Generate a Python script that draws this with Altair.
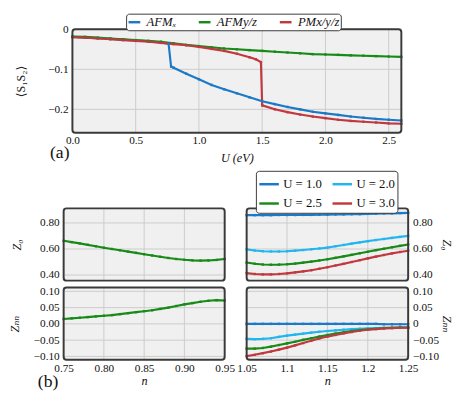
import altair as alt
import pandas as pd

# ---------------- panel (a) data ----------------
series_a = ["AFMₓ", "AFMy/z", "PMx/y/z"]
colors_a = ["#1b79c6", "#178a17", "#c1393e"]

U_afmx = [0.0, 0.1, 0.2, 0.3, 0.4, 0.5, 0.6, 0.7, 0.76, 0.78, 0.8, 0.9, 1.0, 1.1, 1.2,
          1.3, 1.4, 1.5, 1.6, 1.7, 1.8, 1.9, 2.0, 2.1, 2.2, 2.3, 2.4, 2.5, 2.6]
S_afmx = [-0.019, -0.021, -0.022, -0.024, -0.026, -0.028, -0.030, -0.033, -0.036, -0.093,
          -0.096, -0.111, -0.125, -0.139, -0.150, -0.160, -0.170, -0.180, -0.187, -0.194,
          -0.200, -0.206, -0.210, -0.214, -0.218, -0.221, -0.224, -0.226, -0.228]

U_afmyz = [0.0, 0.1, 0.2, 0.3, 0.4, 0.5, 0.6, 0.7, 0.8, 0.9, 1.0, 1.1, 1.2, 1.3, 1.4,
           1.5, 1.6, 1.7, 1.8, 1.9, 2.0, 2.1, 2.2, 2.3, 2.4, 2.5, 2.6]
S_afmyz = [-0.018, -0.019, -0.021, -0.023, -0.025, -0.027, -0.029, -0.031, -0.035, -0.039,
           -0.042, -0.045, -0.048, -0.050, -0.052, -0.054, -0.056, -0.058, -0.060, -0.062,
           -0.063, -0.064, -0.065, -0.066, -0.067, -0.068, -0.069]

U_pm = [0.0, 0.1, 0.2, 0.3, 0.4, 0.5, 0.6, 0.7, 0.8, 0.9, 1.0, 1.1, 1.2, 1.3, 1.4, 1.45,
        1.49, 1.5, 1.6, 1.7, 1.8, 1.9, 2.0, 2.1, 2.2, 2.3, 2.4, 2.5, 2.6]
S_pm = [-0.020, -0.021, -0.023, -0.025, -0.027, -0.029, -0.031, -0.034, -0.037, -0.040,
        -0.044, -0.049, -0.054, -0.061, -0.070, -0.075, -0.082, -0.190, -0.200, -0.207,
        -0.213, -0.218, -0.222, -0.226, -0.229, -0.231, -0.233, -0.235, -0.236]

# ---------------- panel (b) data ----------------
series_b = ["U = 1.0", "U = 2.0", "U = 2.5", "U = 3.0"]
colors_b = ["#1b79c6", "#22b6ef", "#178a17", "#c1393e"]

n_left = [0.75, 0.76, 0.77, 0.78, 0.79, 0.80, 0.81, 0.82, 0.83, 0.84, 0.85,
          0.86, 0.87, 0.88, 0.89, 0.90, 0.91, 0.92, 0.93, 0.94, 0.95]
Z0_left = [0.663, 0.653, 0.643, 0.632, 0.621, 0.610, 0.600, 0.590, 0.580, 0.570, 0.560,
           0.550, 0.540, 0.531, 0.523, 0.517, 0.513, 0.511, 0.512, 0.516, 0.523]
ZNN_left = [0.015, 0.017, 0.019, 0.021, 0.023, 0.025, 0.027, 0.030, 0.033, 0.036, 0.039,
            0.042, 0.046, 0.050, 0.055, 0.060, 0.064, 0.068, 0.071, 0.073, 0.072]

n_right = [1.05, 1.06, 1.07, 1.08, 1.09, 1.10, 1.11, 1.12, 1.13, 1.14, 1.15,
           1.16, 1.17, 1.18, 1.19, 1.20, 1.21, 1.22, 1.23, 1.24, 1.25]
Z0_U10 = [0.860, 0.860, 0.860, 0.860, 0.861, 0.861, 0.861, 0.862, 0.862, 0.863, 0.864,
          0.865, 0.866, 0.867, 0.868, 0.870, 0.871, 0.873, 0.874, 0.876, 0.878]
Z0_U20 = [0.597, 0.588, 0.583, 0.581, 0.581, 0.583, 0.587, 0.592, 0.598, 0.604, 0.611,
          0.621, 0.631, 0.641, 0.651, 0.660, 0.669, 0.677, 0.685, 0.693, 0.701]
Z0_U25 = [0.496, 0.487, 0.481, 0.479, 0.480, 0.483, 0.488, 0.495, 0.503, 0.512, 0.521,
          0.532, 0.543, 0.555, 0.567, 0.579, 0.591, 0.602, 0.613, 0.624, 0.635]
Z0_U30 = [0.415, 0.408, 0.405, 0.405, 0.408, 0.413, 0.420, 0.428, 0.437, 0.448, 0.460,
          0.473, 0.486, 0.500, 0.514, 0.528, 0.541, 0.554, 0.566, 0.577, 0.587]
ZNN_U10 = [0.000, 0.000, 0.000, 0.000, 0.000, 0.000, 0.000, 0.000, 0.000, 0.000, 0.000,
           0.000, 0.000, 0.000, 0.000, 0.000, 0.000, -0.001, -0.001, -0.001, -0.001]
ZNN_U20 = [-0.046, -0.047, -0.046, -0.044, -0.040, -0.036, -0.033, -0.030, -0.027, -0.024,
           -0.022, -0.020, -0.018, -0.016, -0.015, -0.014, -0.013, -0.012, -0.012, -0.011, -0.011]
ZNN_U25 = [-0.076, -0.076, -0.074, -0.070, -0.065, -0.060, -0.055, -0.049, -0.044, -0.039,
           -0.034, -0.030, -0.026, -0.022, -0.019, -0.017, -0.015, -0.013, -0.012, -0.011, -0.011]
ZNN_U30 = [-0.099, -0.095, -0.090, -0.085, -0.079, -0.073, -0.066, -0.059, -0.052, -0.045,
           -0.039, -0.034, -0.029, -0.025, -0.021, -0.018, -0.016, -0.014, -0.013, -0.012, -0.012]

# tick / grid values
ticks_U = [0.0, 0.5, 1.0, 1.5, 2.0, 2.5]
ticks_S = [0.0, -0.1, -0.2]
ticks_nl = [0.75, 0.80, 0.85, 0.90, 0.95]
ticks_nr = [1.05, 1.1, 1.15, 1.2, 1.25]
ticks_Z0 = [0.4, 0.6, 0.8]
ticks_ZNN = [-0.1, -0.05, 0.0, 0.05, 0.1]
panel_labels = ["(a)", "(b)"]

# ---------------- tables ----------------
df_a = pd.concat([
    pd.DataFrame({"U": U_afmx, "S": S_afmx, "s": series_a[0]}),
    pd.DataFrame({"U": U_afmyz, "S": S_afmyz, "s": series_a[1]}),
    pd.DataFrame({"U": U_pm, "S": S_pm, "s": series_a[2]}),
])
df_l = pd.DataFrame({"n": n_left, "Z0": Z0_left, "ZNN": ZNN_left, "s": series_b[2]})
df_r = pd.concat([
    pd.DataFrame({"n": n_right, "Z0": Z0_U10, "ZNN": ZNN_U10, "s": series_b[0]}),
    pd.DataFrame({"n": n_right, "Z0": Z0_U20, "ZNN": ZNN_U20, "s": series_b[1]}),
    pd.DataFrame({"n": n_right, "Z0": Z0_U25, "ZNN": ZNN_U25, "s": series_b[2]}),
    pd.DataFrame({"n": n_right, "Z0": Z0_U30, "ZNN": ZNN_U30, "s": series_b[3]}),
])

FONT = "Liberation Serif, DejaVu Serif, serif"
W, H = 448, 391
BG = "#f0f0f0"
GRID = "#cccccc"
FRAME = "#3a3a3a"


def panel(df, xf, yf, xdom, ydom, xr, yr, xgrid, ygrid, xaxis, yaxis, color, color_nolegend):
    xs = alt.Scale(domain=xdom, range=xr, nice=False, zero=False)
    ys = alt.Scale(domain=ydom, range=yr, nice=False, zero=False)
    box = pd.DataFrame({"x0": [xdom[0]], "x1": [xdom[1]], "y0": [ydom[0]], "y1": [ydom[1]]})
    bg = alt.Chart(box).mark_rect(fill=BG, cornerRadius=3).encode(
        x=alt.X("x0:Q", scale=xs, axis=None), x2="x1:Q",
        y=alt.Y("y0:Q", scale=ys, axis=None), y2="y1:Q")
    gx = alt.Chart(pd.DataFrame({"v": xgrid, "y0": ydom[0], "y1": ydom[1]})).mark_rule(
        color=GRID, strokeWidth=1).encode(
        x=alt.X("v:Q", scale=xs, axis=None),
        y=alt.Y("y0:Q", scale=ys, axis=None), y2="y1:Q")
    gy = alt.Chart(pd.DataFrame({"v": ygrid, "x0": xdom[0], "x1": xdom[1]})).mark_rule(
        color=GRID, strokeWidth=1).encode(
        y=alt.Y("v:Q", scale=ys, axis=None),
        x=alt.X("x0:Q", scale=xs, axis=None), x2="x1:Q")
    ln = alt.Chart(df).mark_line(strokeWidth=2.2).encode(
        x=alt.X(f"{xf}:Q", scale=xs, axis=xaxis),
        y=alt.Y(f"{yf}:Q", scale=ys, axis=yaxis),
        color=color, detail="s:N")
    pt = alt.Chart(df).mark_point(filled=True, size=6, shape="square", opacity=1).encode(
        x=alt.X(f"{xf}:Q", scale=xs, axis=None),
        y=alt.Y(f"{yf}:Q", scale=ys, axis=None),
        color=color_nolegend)
    frame = alt.Chart(box).mark_rect(filled=False, stroke=FRAME, strokeWidth=2, cornerRadius=3).encode(
        x=alt.X("x0:Q", scale=xs, axis=None), x2="x1:Q",
        y=alt.Y("y0:Q", scale=ys, axis=None), y2="y1:Q")
    return [bg, gx, gy, ln, pt, frame]


def leg(**kw):
    base = dict(orient="none", title=None, symbolType="stroke", symbolStrokeWidth=2.5,
                symbolSize=400, labelFont=FONT, labelFontSize=13, labelColor="#111",
                strokeColor=FRAME, fillColor="white", cornerRadius=3, padding=2,
                labelOffset=3, columnPadding=5)
    base.update(kw)
    return alt.Legend(**base)


sc_a = alt.Scale(domain=series_a, range=colors_a)
sc_b = alt.Scale(domain=series_b, range=colors_b)
col_a = alt.Color("s:N", scale=sc_a,
                  legend=leg(legendX=110, legendY=0, direction="horizontal",
                             labelFontStyle="italic", symbolSize=144, padding=1,
                             columnPadding=17, labelOffset=5))
col_a0 = alt.Color("s:N", scale=sc_a, legend=None)
col_b_leg = alt.Color("s:N", scale=sc_b,
                      legend=leg(legendX=243, legendY=161, columns=2, direction="horizontal",
                                 rowPadding=1))
col_b = alt.Color("s:N", scale=sc_b, legend=None)

axcommon = dict(labelFlush=False, labelOverlap=False, titleBaseline="middle")

ax_a_x = alt.Axis(orient="bottom", offset=122 - H, values=ticks_U, format=".1f",
                  labelPadding=2, title="U (eV)", titleFontStyle="italic", titleY=25, **axcommon)
ax_a_y = alt.Axis(orient="left", offset=-55, values=ticks_S,
                  labelExpr="datum.value == 0 ? '0' : format(datum.value, '.1f')",
                  labelPadding=4.5, title="⟨S₁S₂⟩", titleX=-53.5, **axcommon)
ax_lz_y = alt.Axis(orient="left", offset=-46, values=ticks_Z0, format=".2f",
                   labelPadding=4.5, title="Z₀", titleFontStyle="italic", titleX=-48.5, **axcommon)
ax_ln_y = alt.Axis(orient="left", offset=-46, values=ticks_ZNN, format=".2f",
                   labelPadding=4.5, title="Zₙₙ", titleFontStyle="italic", titleX=-50.5, **axcommon)
ax_ln_x = alt.Axis(orient="bottom", offset=354.5 - H, values=ticks_nl, format=".2f",
                   labelPadding=3, title="n", titleFontStyle="italic", titleY=21, **axcommon)
ax_rz_y = alt.Axis(orient="right", offset=399 - W, values=ticks_Z0, format=".2f",
                   labelPadding=4.5, title="Z₀", titleFontStyle="italic", titleX=39, **axcommon)
ax_rn_y = alt.Axis(orient="right", offset=399 - W, values=ticks_ZNN,
                   labelExpr="datum.value == 0 ? '0' : format(datum.value, '.2f')",
                   labelPadding=4.5, title="Zₙₙ", titleFontStyle="italic", titleX=39, **axcommon)
ax_rn_x = alt.Axis(orient="bottom", offset=354.5 - H, values=ticks_nr,
                   labelExpr="format(datum.value, '~g')",
                   labelPadding=3, title="n", titleFontStyle="italic", titleY=21, **axcommon)

Z0_dom = [0.357, 0.912]
ZNN_dom = [-0.11, 0.112]

layers = []
layers += panel(df_a, "U", "S", [0, 2.6], [-0.2585, 0], [55, 392], [122, 16],
                ticks_U, ticks_S, ax_a_x, ax_a_y, col_a, col_a0)
layers += panel(df_l, "n", "Z0", [0.75, 0.95], Z0_dom, [46, 211], [273.5, 199.5],
                ticks_nl, ticks_Z0, None, ax_lz_y, col_b, col_b)
layers += panel(df_l, "n", "ZNN", [0.75, 0.95], ZNN_dom, [46, 211], [354.5, 280.5],
                ticks_nl, ticks_ZNN, ax_ln_x, ax_ln_y, col_b, col_b)
layers += panel(df_r, "n", "Z0", [1.05, 1.25], Z0_dom, [233.5, 399], [273.5, 199.5],
                ticks_nr, ticks_Z0, None, ax_rz_y, col_b_leg, col_b)
layers += panel(df_r, "n", "ZNN", [1.05, 1.25], ZNN_dom, [233.5, 399], [354.5, 280.5],
                ticks_nr, ticks_ZNN, ax_rn_x, ax_rn_y, col_b, col_b)

txt_a = alt.Chart(pd.DataFrame({"t": [panel_labels[0]]})).mark_text(
    font=FONT, fontSize=18, align="center", baseline="middle", color="#111").encode(
    text="t:N", x=alt.value(42), y=alt.value(143))
txt_b = alt.Chart(pd.DataFrame({"t": [panel_labels[1]]})).mark_text(
    font=FONT, fontSize=18, align="center", baseline="middle", color="#111").encode(
    text="t:N", x=alt.value(30), y=alt.value(378))
layers += [txt_a, txt_b]

chart = alt.layer(*layers).resolve_scale(
    x="independent", y="independent", color="independent"
).properties(width=W, height=H, padding=0).configure(font=FONT).configure_view(
    stroke=None).configure_axis(
    ticks=False, domain=False, grid=False, labelFont=FONT, labelFontSize=11.5,
    labelColor="#111", titleFont=FONT, titleFontSize=12.5, titleFontWeight="normal",
    titleColor="#111")

chart.save("out.html", embed_options={"renderer": "svg", "actions": False})
